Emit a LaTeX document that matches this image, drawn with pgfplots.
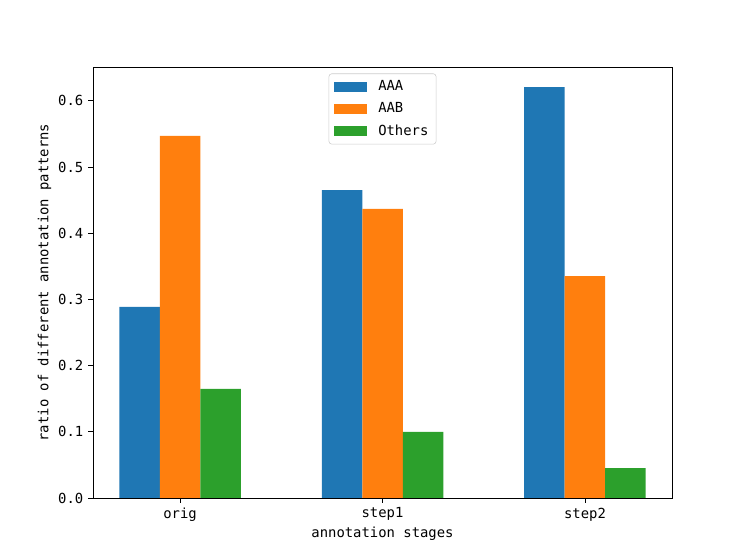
\documentclass[border=0pt]{standalone}
\usepackage{pgfplots}
\pgfplotsset{compat=1.18}
\usepackage{fontspec}
\setmainfont{DejaVu Sans Mono}
\definecolor{cA}{HTML}{1F77B4}
\definecolor{cB}{HTML}{FF7F0E}
\definecolor{cC}{HTML}{2CA02C}
\begin{document}
\begin{tikzpicture}
\path (-66.96pt,-44.64pt) rectangle (470.88pt,358.56pt);
\begin{axis}[
  at={(0,0)}, anchor=south west,
  scale only axis, width=416.9pt, height=310.3pt,
  xmin=-0.43, xmax=2.43, ymin=0, ymax=0.651,
  ybar, bar width=0.2,
  xtick={0,1,2}, xticklabels={orig,step1,step2},
  ytick={0,0.1,0.2,0.3,0.4,0.5,0.6},
  yticklabel style={/pgf/number format/.cd,fixed,fixed zerofill,precision=1},
  /pgf/number format/assume math mode=true,
  tick label style={font=\fontsize{10}{12}\selectfont},
  label style={font=\fontsize{10}{12}\selectfont},
  tick align=outside, xtick pos=bottom, ytick pos=left,
  major tick length=3.5pt,
  tick style={black, line width=0.6pt},
  axis line style={line width=0.6pt},
  xlabel={annotation stages}, ylabel={ratio of different annotation patterns},
  xlabel style={yshift=3pt},
  ylabel style={yshift=-2pt},
  legend style={at={(0.5,0.985)}, anchor=north, draw=black!20, rounded corners=2pt,
    font=\fontsize{10}{12}\selectfont, legend cell align=left,
    row sep=3pt, inner xsep=3.5pt, inner ysep=3pt},
  legend image code/.code={\fill[#1, rounded corners=0pt] (0pt,-3.6pt) rectangle (23.8pt,3.6pt); \path (30pt,0pt);},
]
\addplot[fill=cA, draw=none, bar shift=-0.2] coordinates {(0,0.2885) (1,0.4650) (2,0.6205)};
\addplot[fill=cB, draw=none, bar shift=0] coordinates {(0,0.5470) (1,0.4366) (2,0.3353)};
\addplot[fill=cC, draw=none, bar shift=0.2] coordinates {(0,0.1647) (1,0.0997) (2,0.0453)};
\legend{AAA,AAB,Others}
\end{axis}
\end{tikzpicture}
\end{document}
